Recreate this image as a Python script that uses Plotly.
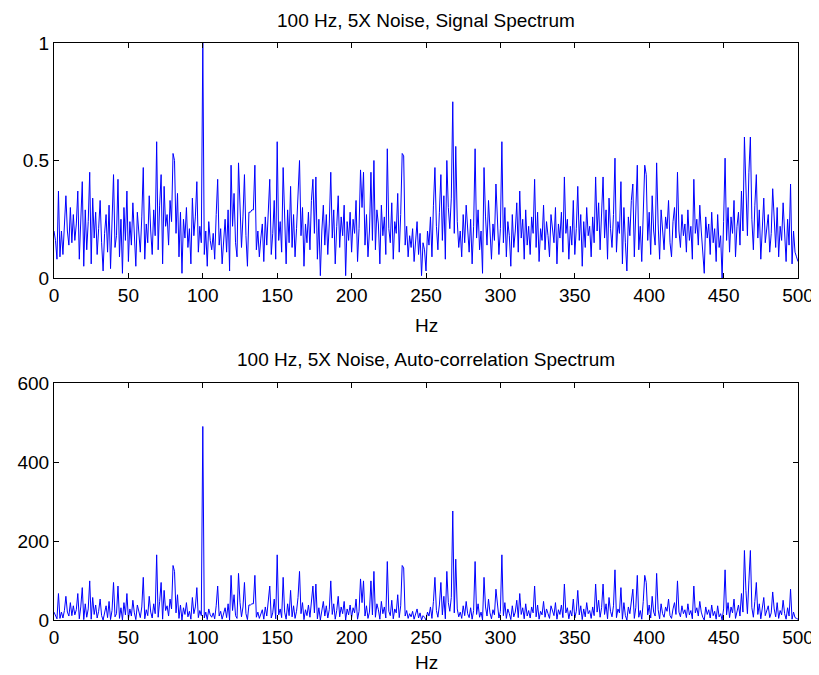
import plotly.graph_objects as go

# frequency bins, 1 Hz apart
freq_hz = list(range(0, 501))

# |FFT| of the noisy 100 Hz signal
signal_spec = [
    0.20, 0.16, 0.08, 0.37, 0.09, 0.20, 0.10, 0.22, 0.35, 0.20,
    0.14, 0.30, 0.15, 0.27, 0.16, 0.23, 0.37, 0.08, 0.26, 0.41,
    0.05, 0.29, 0.12, 0.24, 0.45, 0.06, 0.34, 0.17, 0.28, 0.10,
    0.21, 0.33, 0.15, 0.03, 0.19, 0.27, 0.11, 0.31, 0.04, 0.22,
    0.44, 0.13, 0.18, 0.42, 0.09, 0.25, 0.02, 0.30, 0.16, 0.37,
    0.07, 0.24, 0.14, 0.32, 0.19, 0.05, 0.28, 0.21, 0.11, 0.26,
    0.47, 0.08, 0.23, 0.15, 0.35, 0.20, 0.10, 0.29, 0.18, 0.58,
    0.12, 0.31, 0.44, 0.06, 0.39, 0.22, 0.27, 0.14, 0.33, 0.24,
    0.53, 0.50, 0.19, 0.36, 0.09, 0.28, 0.02, 0.25, 0.17, 0.30,
    0.13, 0.21, 0.06, 0.34, 0.18, 0.26, 0.41, 0.11, 0.22, 0.15,
    1.00, 0.10, 0.20, 0.05, 0.24, 0.16, 0.12, 0.19, 0.08, 0.27,
    0.42, 0.14, 0.21, 0.06, 0.18, 0.25, 0.11, 0.29, 0.03, 0.48,
    0.22, 0.36, 0.15, 0.09, 0.49, 0.30, 0.13, 0.26, 0.44, 0.18,
    0.05, 0.28, 0.28, 0.29, 0.29, 0.48, 0.12, 0.20, 0.09, 0.17,
    0.23, 0.07, 0.26, 0.14, 0.30, 0.42, 0.10, 0.19, 0.33, 0.08,
    0.58, 0.16, 0.24, 0.11, 0.47, 0.20, 0.06, 0.29, 0.15, 0.39,
    0.13, 0.27, 0.09, 0.21, 0.34, 0.50, 0.18, 0.30, 0.05, 0.23,
    0.15, 0.28, 0.12, 0.33, 0.42, 0.19, 0.43, 0.08, 0.25, 0.01,
    0.20, 0.31, 0.14, 0.27, 0.10, 0.23, 0.45, 0.17, 0.29, 0.06,
    0.22, 0.35, 0.13, 0.26, 0.18, 0.31, 0.01, 0.24, 0.16, 0.28,
    0.11, 0.25, 0.19, 0.33, 0.07, 0.21, 0.46, 0.30, 0.45, 0.14,
    0.27, 0.09, 0.20, 0.45, 0.16, 0.50, 0.12, 0.29, 0.23, 0.06,
    0.31, 0.18, 0.26, 0.10, 0.55, 0.21, 0.15, 0.32, 0.08, 0.24,
    0.19, 0.36, 0.11, 0.27, 0.53, 0.52, 0.14, 0.22, 0.09, 0.18,
    0.13, 0.21, 0.07, 0.16, 0.24, 0.10, 0.19, 0.01, 0.15, 0.12,
    0.03, 0.20, 0.14, 0.26, 0.09, 0.31, 0.47, 0.22, 0.12, 0.28,
    0.44, 0.16, 0.35, 0.08, 0.50, 0.30, 0.21, 0.34, 0.75, 0.19,
    0.56, 0.24, 0.13, 0.20, 0.09, 0.27, 0.15, 0.31, 0.18, 0.11,
    0.25, 0.06, 0.22, 0.55, 0.17, 0.29, 0.12, 0.20, 0.02, 0.47,
    0.26, 0.14, 0.33, 0.19, 0.08, 0.23, 0.16, 0.40, 0.28, 0.10,
    0.21, 0.58, 0.15, 0.30, 0.09, 0.24, 0.18, 0.05, 0.27, 0.13,
    0.20, 0.32, 0.11, 0.37, 0.17, 0.25, 0.08, 0.29, 0.14, 0.22,
    0.10, 0.26, 0.19, 0.42, 0.13, 0.28, 0.07, 0.21, 0.16, 0.31,
    0.12, 0.24, 0.18, 0.09, 0.27, 0.20, 0.15, 0.30, 0.06, 0.23,
    0.17, 0.28, 0.11, 0.43, 0.19, 0.25, 0.08, 0.22, 0.14, 0.33,
    0.10, 0.21, 0.39, 0.16, 0.27, 0.05, 0.24, 0.13, 0.30, 0.18,
    0.22, 0.09, 0.26, 0.15, 0.43, 0.20, 0.32, 0.12, 0.25, 0.43,
    0.17, 0.29, 0.08, 0.34, 0.21, 0.13, 0.27, 0.51, 0.11, 0.24,
    0.19, 0.41, 0.06, 0.30, 0.15, 0.03, 0.26, 0.18, 0.33, 0.40,
    0.09, 0.25, 0.48, 0.12, 0.22, 0.07, 0.31, 0.48, 0.44, 0.16,
    0.28, 0.10, 0.35, 0.20, 0.14, 0.49, 0.23, 0.08, 0.29, 0.18,
    0.12, 0.26, 0.21, 0.33, 0.15, 0.09, 0.24, 0.30, 0.17, 0.45,
    0.20, 0.13, 0.27, 0.18, 0.23, 0.11, 0.29, 0.16, 0.22, 0.08,
    0.42, 0.19, 0.25, 0.14, 0.31, 0.20, 0.12, 0.02, 0.26, 0.17,
    0.23, 0.10, 0.28, 0.15, 0.21, 0.07, 0.27, 0.13, 0.18, 0.00,
    0.24, 0.51, 0.16, 0.30, 0.11, 0.26, 0.19, 0.33, 0.09, 0.22,
    0.28, 0.14, 0.37, 0.20, 0.60, 0.39, 0.18, 0.45, 0.60, 0.25,
    0.12, 0.31, 0.44, 0.17, 0.29, 0.08, 0.23, 0.34, 0.15, 0.21,
    0.27, 0.11, 0.19, 0.38, 0.24, 0.13, 0.30, 0.09, 0.22, 0.16,
    0.32, 0.18, 0.07, 0.25, 0.14, 0.40, 0.06, 0.20, 0.11, 0.09,
    0.07,
]

# auto-correlation (power) spectrum, bottom panel
autocorr_spec = [
    20, 13, 3, 67, 4, 20, 5, 24, 60, 20,
    10, 44, 11, 36, 13, 26, 67, 3, 33, 82,
    1, 41, 7, 28, 99, 2, 57, 14, 38, 5,
    22, 53, 11, 0, 18, 36, 6, 47, 1, 24,
    95, 8, 16, 86, 4, 31, 0, 44, 13, 67,
    2, 28, 10, 50, 18, 1, 38, 22, 6, 33,
    108, 3, 26, 11, 60, 20, 5, 41, 16, 165,
    7, 47, 95, 2, 75, 24, 36, 10, 53, 28,
    138, 123, 18, 64, 4, 38, 0, 31, 14, 44,
    8, 22, 2, 57, 16, 33, 82, 6, 24, 11,
    490, 5, 20, 1, 28, 13, 7, 18, 3, 36,
    86, 10, 22, 2, 16, 31, 6, 41, 0, 113,
    24, 64, 11, 4, 118, 44, 8, 33, 95, 16,
    1, 38, 38, 41, 41, 113, 7, 20, 4, 14,
    26, 2, 33, 10, 44, 86, 5, 18, 53, 3,
    165, 13, 28, 6, 108, 20, 2, 41, 11, 75,
    8, 36, 4, 22, 57, 123, 16, 44, 1, 26,
    11, 38, 7, 53, 86, 18, 91, 3, 31, 0,
    20, 47, 10, 36, 5, 26, 99, 14, 41, 2,
    24, 60, 8, 33, 16, 47, 0, 28, 13, 38,
    6, 31, 18, 53, 2, 22, 104, 44, 99, 10,
    36, 4, 20, 99, 13, 123, 7, 41, 26, 2,
    47, 16, 33, 5, 148, 22, 11, 50, 3, 28,
    18, 64, 6, 36, 138, 132, 10, 24, 4, 16,
    8, 22, 2, 13, 28, 5, 18, 0, 11, 7,
    0, 20, 10, 33, 4, 47, 108, 24, 7, 38,
    95, 13, 60, 3, 123, 44, 22, 57, 276, 18,
    154, 28, 8, 20, 4, 36, 11, 47, 16, 6,
    31, 2, 24, 148, 14, 41, 7, 20, 0, 108,
    33, 10, 53, 18, 3, 26, 13, 78, 38, 5,
    22, 165, 11, 44, 4, 28, 16, 1, 36, 8,
    20, 50, 6, 67, 14, 31, 3, 41, 10, 24,
    5, 33, 18, 86, 8, 38, 2, 22, 13, 47,
    7, 28, 16, 4, 36, 20, 11, 44, 2, 26,
    14, 38, 6, 91, 18, 31, 3, 24, 10, 53,
    5, 22, 75, 13, 36, 1, 28, 8, 44, 16,
    24, 4, 33, 11, 91, 20, 50, 7, 31, 91,
    14, 41, 3, 57, 22, 8, 36, 127, 6, 28,
    18, 82, 2, 44, 11, 0, 33, 16, 53, 78,
    4, 31, 113, 7, 24, 2, 47, 113, 95, 13,
    38, 5, 60, 20, 10, 118, 26, 3, 41, 16,
    7, 33, 22, 53, 11, 4, 28, 44, 14, 99,
    20, 8, 36, 16, 26, 6, 41, 13, 24, 3,
    86, 18, 31, 10, 47, 20, 7, 0, 33, 14,
    26, 5, 38, 11, 22, 2, 36, 8, 16, 0,
    28, 127, 13, 44, 6, 33, 18, 53, 4, 24,
    38, 10, 67, 20, 176, 75, 16, 99, 176, 31,
    7, 47, 95, 14, 41, 3, 26, 57, 11, 22,
    36, 6, 18, 71, 28, 8, 44, 4, 24, 13,
    50, 16, 2, 31, 10, 78, 2, 20, 6, 4,
    2,
]

x_ticks = [0, 50, 100, 150, 200, 250, 300, 350, 400, 450, 500]
sig_ticks = [0, 0.5, 1]
sig_ticktext = ["0", "0.5", "1"]
ac_ticks = [0, 200, 400, 600]

FONT = "Liberation Sans, Arial, sans-serif"
FS = 19

fig = go.Figure()

fig.add_trace(go.Scatter(
    x=freq_hz, y=signal_spec, mode="lines",
    line=dict(color="#0000ff", width=1),
    xaxis="x", yaxis="y", showlegend=False
))
fig.add_trace(go.Scatter(
    x=freq_hz, y=autocorr_spec, mode="lines",
    line=dict(color="#0000ff", width=1),
    xaxis="x2", yaxis="y2", showlegend=False
))

eixo = dict(
    showline=True, linecolor="black", linewidth=1, mirror="allticks",
    ticks="inside", ticklen=5, tickcolor="black", tickwidth=1,
    showgrid=False, zeroline=False, automargin=False,
    tickfont=dict(size=FS, color="black", family=FONT),
)

# a pagina tem margem de 8px no body, por isso a figura tem 811x667
fig.update_layout(
    width=811, height=667,
    paper_bgcolor="white", plot_bgcolor="white",
    margin=dict(l=46, r=21, t=35, b=55),
    font=dict(family=FONT, size=FS, color="black"),
    xaxis=dict(domain=[0, 1], range=[0, 500], tickvals=x_ticks,
               anchor="y", ticklabelstandoff=0, **eixo),
    yaxis=dict(domain=[0.5927, 1], range=[0, 1], tickvals=sig_ticks,
               ticktext=sig_ticktext, anchor="x", ticklabelstandoff=0, **eixo),
    xaxis2=dict(domain=[0, 1], range=[0, 500], tickvals=x_ticks,
                anchor="y2", ticklabelstandoff=0, **eixo),
    yaxis2=dict(domain=[0, 0.4107], range=[0, 600], tickvals=ac_ticks,
                anchor="x2", ticklabelstandoff=0, **eixo),
)

# titulos e rotulos (posicionados como no original)
fig.add_annotation(text="100 Hz, 5X Noise, Signal Spectrum",
                   xref="x domain", yref="y domain", x=0.5, y=1,
                   yanchor="middle", yshift=23, borderpad=0, showarrow=False,
                   font=dict(size=FS))
fig.add_annotation(text="Hz", xref="x domain", yref="y domain", x=0.5, y=0,
                   yanchor="middle", yshift=-47, showarrow=False,
                   font=dict(size=FS))
fig.add_annotation(text="100 Hz, 5X Noise, Auto-correlation Spectrum",
                   xref="x2 domain", yref="y2 domain", x=0.5, y=1,
                   yanchor="middle", yshift=24, borderpad=0, showarrow=False,
                   font=dict(size=FS))
fig.add_annotation(text="Hz", xref="x2 domain", yref="y2 domain", x=0.5, y=0,
                   yanchor="middle", yshift=-42, showarrow=False,
                   font=dict(size=FS))

fig.write_html("out.html")
